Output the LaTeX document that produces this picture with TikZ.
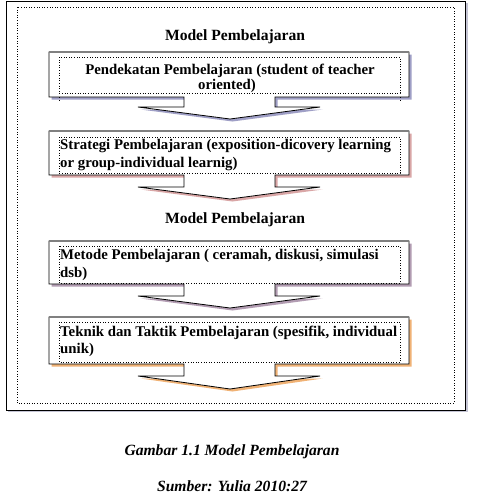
\documentclass[tikz,border=0pt]{standalone}
\usepackage{fontspec}
\setmainfont{Liberation Serif}
\begin{document}
\begin{tikzpicture}[x=1pt,y=-1pt,
  txt/.style={inner sep=0pt,font=\fontsize{15.6}{18}\selectfont\bfseries},
  boxtxt/.style={inner sep=0pt,font=\fontsize{14.8}{18}\selectfont\bfseries},
  captxt/.style={inner sep=0pt,font=\fontsize{15.6}{18}\selectfont\bfseries\itshape},
  callout/.style={draw=black,line width=0.8pt,fill=white,line join=miter},
  dotbox/.style={draw=black,line width=0.6pt,dotted}]
\useasboundingbox (0,0) rectangle (485,504);
% outer frame
\fill[blue!15!gray!40] (8,3) rectangle (468,412);
\draw[line width=1pt,fill=white] (6,1) rectangle (465,410);
\draw[dotbox] (17,7) rectangle (454,403);
\foreach \T/\B/\S/\Y/\col/\dt/\db in {52/97/107/119/{blue!25!gray!60}/57/93,
  131/175/187/199/{red!40!gray!50}/137/173,
  241/284/296/308/{violet!30!gray!60}/246/283,
  317/364/376/389/{orange!60!brown!60}/322/362}{
  \fill[\col] (51.5,\T+2.5) -- (411.5,\T+2.5) -- (411.5,\B+2.5) -- (277.5,\B+2.5) -- (277.5,\S+2.5)
     -- (322.5,\S+2.5) -- (232.5,\Y+2.5) -- (140.5,\S+2.5) -- (186.5,\S+2.5) -- (186.5,\B+2.5)
     -- (51.5,\B+2.5) -- cycle;
  \draw[callout] (49,\T) -- (409,\T) -- (409,\B) -- (275,\B) -- (275,\S) -- (320,\S)
     -- (230,\Y) -- (138,\S) -- (184,\S) -- (184,\B) -- (49,\B) -- cycle;
  \draw[gray,line width=1.6pt] (49,\T) -- (409,\T);
  \draw[dotbox] (59,\dt) rectangle (400,\db);
}
\draw[dotbox] (59,97) -- (59,101) (400,97) -- (400,101);
% titles
\node[txt,anchor=base] (t1) at (235,40) {Model Pembelajaran};
\node[txt,anchor=base] (t2) at (235,223) {Model Pembelajaran};
% box texts
\node[boxtxt,anchor=base] (b1a) at (230,74) {Pendekatan Pembelajaran (student of teacher};
\node[boxtxt,anchor=base] (b1b) at (227,89) {oriented)};
\node[boxtxt,anchor=base west] (b2a) at (60,149) {Strategi Pembelajaran (exposition-dicovery learning};
\node[boxtxt,anchor=base west] (b2b) at (60,167) {or group-individual learnig)};
\node[boxtxt,anchor=base west] (b3a) at (60,259) {Metode Pembelajaran ( ceramah, diskusi, simulasi};
\node[boxtxt,anchor=base west] (b3b) at (60,277) {dsb)};
\node[boxtxt,anchor=base west] (b4a) at (60,336) {Teknik dan Taktik Pembelajaran (spesifik, individual};
\node[boxtxt,anchor=base west] (b4b) at (60,353) {unik)};
% captions
\node[captxt,anchor=base] (c1) at (232,455) {Gambar 1.1 Model Pembelajaran};
\node[captxt,anchor=base] (c2) at (232,491) {Sumber: Yulia 2010:27};
\end{tikzpicture}
\end{document}
